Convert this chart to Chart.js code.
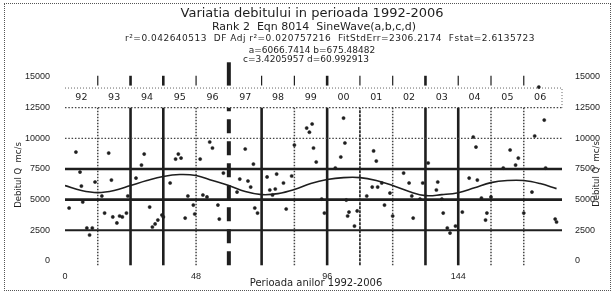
<!DOCTYPE html>
<html>
<head>
<meta charset="utf-8">
<script src="https://cdn.jsdelivr.net/npm/chart.js@4.4.1/dist/chart.umd.min.js"></script>
<style>
  html, body { margin: 0; padding: 0; background: #fff; }
  #wrap { position: relative; width: 615px; height: 293px; }
  #frame { position: absolute; left: 4px; top: 3px; width: 605px; height: 286px; border: 1px dotted #555; pointer-events: none; }
</style>
</head>
<body>
<div id="wrap">
  <canvas id="c" width="615" height="293"></canvas>
  <div id="frame"></div>
</div>
<script>
// monthly flows (month index from Jan 1992, m3/s)
const obsMonths = [1.5, 4, 5.5, 6, 6.5, 8, 9, 10, 11, 13.5, 14.5, 16, 17, 17.5, 19, 20, 21, 22.5, 23, 26, 28, 29, 31, 32, 33, 34, 35.5, 36,
  38.5, 40.5, 41.5, 42.5, 44, 45, 47, 47.5, 49.5, 50.5, 52, 53, 54, 56, 56.5, 58, 63, 64, 66, 67, 68, 69, 69.5, 70.5,
  74, 75, 76, 77, 77.5, 80, 81, 83, 84, 88.5, 89.5, 90.5, 91, 92, 94, 95, 99, 101, 102, 102.5, 103, 103.5, 104, 106, 107,
  110.5, 112.5, 113, 114, 114.5, 116, 117, 119, 120, 124, 126, 127, 127.5, 130, 131, 133, 136, 136.5, 138, 138.5, 140, 141, 143,
  145.5, 148, 149.5, 150.5, 151, 152.5, 154, 154.5, 156, 160.5, 163, 165, 166, 168, 171, 172, 173.5, 175.5, 176, 179.5, 180];
const obsFlows = [4320, 8880, 7250, 6110, 4810, 2690, 2120, 2690, 6440, 5300, 3910, 8800, 6600, 3590, 3100, 3670, 3590, 3910, 5300, 6760, 7820, 8720, 4400, 2770, 3020, 3340, 3750, 3590,
  6360, 8310, 8720, 8390, 3500, 5300, 4560, 3830, 8310, 5380, 5220, 9700, 9210, 4560, 3420, 7170, 5620, 6680, 9130, 6520, 6030, 7900, 4320, 3910,
  6850, 5790, 5380, 5870, 7090, 6360, 4240, 6930, 9450, 10840, 10500, 11170, 9210, 8070, 5050, 3910, 7580, 8480, 11650, 9620, 4970, 3670, 3990, 2850, 4080,
  5300, 6030, 8970, 8150, 6030, 6360, 4560, 5540, 3670, 7170, 6360, 5300, 3500, 5050, 6360, 7990, 5790, 6440, 5050, 3910, 2690, 2280, 2850,
  3990, 6760, 10110, 9290, 6600, 5130, 3340, 3910, 5220, 7580, 9050, 7820, 8390, 3910, 5620, 10190, 14180, 11490, 7580, 3420, 3180];

// fitted sine wave, every 6 months
const fitMonths = [0, 6, 12, 18, 24, 30, 36, 42, 48, 54, 60, 66, 72, 78, 84, 90, 96, 102, 108, 114, 120, 126, 132, 138, 144, 150, 156, 162, 168, 174, 180];
const fitFlows = [6150, 5740, 5570, 5740, 6150, 6560, 6890, 7050, 6970, 6560, 6150, 5660, 5410, 5490, 5820, 6310, 6640, 6800, 6800, 6560, 6150, 5660, 5330, 5410, 5570, 5980, 6390, 6560, 6560, 6310, 5900];

const yearLabels = ["92", "93", "94", "95", "96", "97", "98", "99", "00", "01", "02", "03", "04", "05", "06"];
const yearBounds = [12, 24, 36, 48, 60, 72, 84, 96, 108, 120, 132, 144, 156, 168];
const yTicks = [0, 2500, 5000, 7500, 10000, 12500, 15000];
const xTicks = [0, 48, 96, 144];
const solidLevels = [2500, 5000, 7500];
const dottedLevels = [10000, 12500];

const INK = "#1e1e1e";
const X_MAX = 182;
const HEAD = "'DejaVu Sans', Verdana, sans-serif";

// line styles per year boundary
const heavy = [24, 36, 72, 96, 132, 144];
const medium = [108];
const dashedHeavy = [60];
const topHeavy = [24, 36, 96, 132];
function boundStyle(b) {
  if (dashedHeavy.includes(b)) return { borderWidth: 4, borderDash: [14, 8], borderColor: INK };
  if (heavy.includes(b)) return { borderWidth: 2.6, borderDash: [], borderColor: INK };
  if (medium.includes(b)) return { borderWidth: 1.8, borderDash: [3, 1], borderColor: "#333" };
  return { borderWidth: 1.5, borderDash: [1.5, 1.5], borderColor: "#444" };
}

const refLine = (pts, style) => Object.assign({
  type: "line", data: pts, pointRadius: 0, fill: false, clip: false, tension: 0
}, style);

const datasets = [];
datasets.push({
  type: "scatter",
  data: obsMonths.map((m, i) => ({ x: m, y: obsFlows[i] })),
  pointRadius: 1.6, pointBackgroundColor: INK, pointBorderColor: INK, pointBorderWidth: 0.5
});
datasets.push({
  type: "line",
  data: fitMonths.map((m, i) => ({ x: m, y: fitFlows[i] })),
  borderColor: INK, borderWidth: 1.6, pointRadius: 0, tension: 0.4, fill: false
});
solidLevels.forEach(v => datasets.push(refLine([{ x: 0, y: v }, { x: X_MAX, y: v }],
  { borderColor: INK, borderWidth: v === 2500 ? 2 : 2.6 })));
dottedLevels.forEach(v => datasets.push(refLine([{ x: 0, y: v }, { x: X_MAX, y: v }],
  { borderColor: "#444", borderWidth: 1.4, borderDash: [1.5, 1.8] })));
// dotted box around the year labels
datasets.push(refLine([{ x: 0, y: 14100 }, { x: X_MAX, y: 14100 }, { x: X_MAX, y: 12500 }],
  { borderColor: "#666", borderWidth: 1, borderDash: [1, 2] }));
yearBounds.forEach(b => {
  datasets.push(refLine([{ x: b, y: -350 }, { x: b, y: 12500 }], boundStyle(b)));
  const tall = dashedHeavy.includes(b);
  datasets.push(refLine([{ x: b, y: 14300 }, { x: b, y: tall ? 16200 : 15100 }],
    { borderColor: INK, borderWidth: tall ? 4 : (topHeavy.includes(b) ? 2.6 : 1.2) }));
});

const textPlugin = {
  id: "texts",
  afterDraw(chart) {
    const ctx = chart.ctx;
    const xs = chart.scales.x, ys = chart.scales.y;
    ctx.save();
    ctx.fillStyle = INK;
    ctx.textAlign = "center";
    ctx.textBaseline = "middle";
    ctx.font = "13px " + HEAD;
    ctx.fillText("Variatia debitului in perioada 1992-2006", 312, 14);
    ctx.font = "11px " + HEAD;
    ctx.fillText("Rank 2  Eqn 8014  SineWave(a,b,c,d)", 314, 27);
    ctx.font = "9px " + HEAD;
    ctx.letterSpacing = "0.5px";
    ctx.fillText("r\u00b2=0.042640513  DF Adj r\u00b2=0.020757216  FitStdErr=2306.2174  Fstat=2.6135723", 330, 39);
    ctx.letterSpacing = "0px";
    ctx.fillText("a=6066.7414 b=675.48482", 312, 51);
    ctx.fillText("c=3.4205957 d=60.992913", 306, 60);
    // year labels
    ctx.font = "9.5px " + HEAD;
    yearLabels.forEach((lab, i) => {
      ctx.fillText(lab, xs.getPixelForValue(i * 12 + 6), ys.getPixelForValue(13350));
    });
    // axis titles
    ctx.font = "10px " + HEAD;
    ctx.fillText("Perioada anilor 1992-2006", 316, 283);
    ctx.font = "8.5px " + HEAD;
    [[19, 175], [597, 174]].forEach(([x, y]) => {
      ctx.save();
      ctx.translate(x, y);
      ctx.rotate(-Math.PI / 2);
      ctx.fillText("Debitul Q  mc/s", 0, 0);
      ctx.restore();
    });
    ctx.restore();
  }
};

const tickFont = { size: 9, family: "Arial, 'Liberation Sans', sans-serif" };
const plain = v => String(v);

new Chart(document.getElementById("c"), {
  type: "scatter",
  data: { datasets },
  options: {
    responsive: false,
    animation: false,
    layout: { padding: { top: 77, left: 9, right: 8, bottom: 4 } },
    plugins: { legend: { display: false }, tooltip: { enabled: false }, title: { display: false } },
    scales: {
      x: {
        type: "linear", min: 0, max: X_MAX,
        afterBuildTicks: s => { s.ticks = xTicks.map(v => ({ value: v })); },
        afterFit: s => { s.height = 28; },
        ticks: { color: INK, font: tickFont, padding: 2, callback: plain },
        grid: { display: false },
        border: { display: false }
      },
      y: {
        type: "linear", position: "left", min: 0, max: 15000,
        afterBuildTicks: s => { s.ticks = yTicks.map(v => ({ value: v })); },
        afterFit: s => { s.width = 56; },
        ticks: { color: INK, font: tickFont, padding: 7, callback: plain },
        grid: { display: false },
        border: { display: false }
      },
      y2: {
        type: "linear", position: "right", min: 0, max: 15000, display: true,
        afterBuildTicks: s => { s.ticks = yTicks.map(v => ({ value: v })); },
        afterFit: s => { s.width = 45; },
        ticks: { color: INK, font: tickFont, padding: 5, callback: plain },
        grid: { display: false },
        border: { display: false }
      }
    }
  },
  plugins: [textPlugin]
});
</script>
</body>
</html>
